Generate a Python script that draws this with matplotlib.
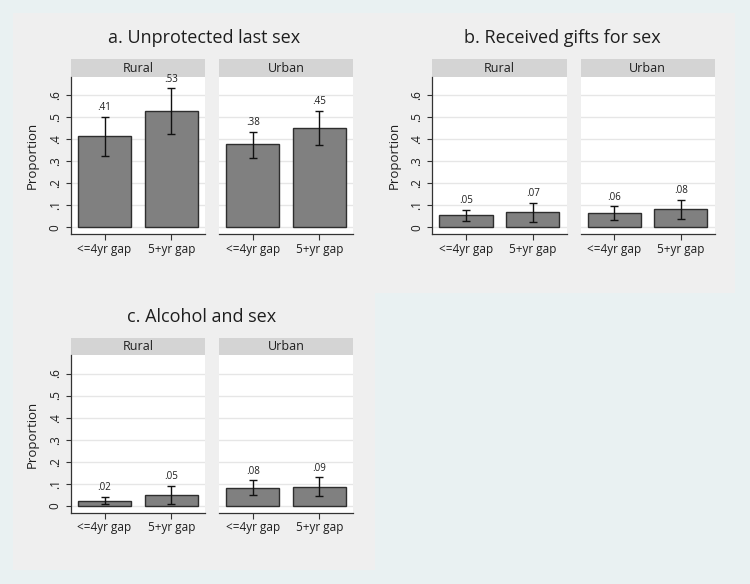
import matplotlib
matplotlib.use("Agg")
import matplotlib.pyplot as plt
from matplotlib.patches import Rectangle

plt.rcParams['font.family'] = ['Open Sans', 'DejaVu Sans']

# ---------------- data ----------------
categories = ["<=4yr gap", "5+yr gap"]
facets = ["Rural", "Urban"]
titles = ["a. Unprotected last sex", "b. Received gifts for sex", "c. Alcohol and sex"]

# panel a
a_rural = [0.414, 0.527]
a_rural_lo = [0.325, 0.422]
a_rural_hi = [0.502, 0.630]
a_urban = [0.376, 0.452]
a_urban_lo = [0.313, 0.375]
a_urban_hi = [0.434, 0.529]
a_labels_rural = [".41", ".53"]
a_labels_urban = [".38", ".45"]

# panel b
b_rural = [0.054, 0.069]
b_rural_lo = [0.029, 0.024]
b_rural_hi = [0.080, 0.112]
b_urban = [0.063, 0.082]
b_urban_lo = [0.033, 0.038]
b_urban_hi = [0.095, 0.125]
b_labels_rural = [".05", ".07"]
b_labels_urban = [".06", ".08"]

# panel c
c_rural = [0.023, 0.050]
c_rural_lo = [0.006, 0.009]
c_rural_hi = [0.041, 0.090]
c_urban = [0.080, 0.087]
c_urban_lo = [0.047, 0.043]
c_urban_hi = [0.115, 0.129]
c_labels_rural = [".02", ".05"]
c_labels_urban = [".08", ".09"]

yticks = [0, 0.1, 0.2, 0.3, 0.4, 0.5, 0.6]
ytick_labels = ["0", ".1", ".2", ".3", ".4", ".5", ".6"]

# ---------------- styling ----------------
W, H = 750, 584
OUTER_BG = "#E9F1F2"
PANEL_BG = "#EFEFEF"
STRIP_BG = "#D4D4D4"
BAR_C = "#808080"
EDGE_C = "#2E2E2E"
GRID_C = "#E6E6E6"
TXT = "#1E1E1E"

fig = plt.figure(figsize=(W / 100, H / 100), dpi=100, facecolor=OUTER_BG)


def fx(px):
    return px / W


def fy(py):
    return 1 - py / H


def rect(x0, y0, x1, y1):
    return [fx(x0), fy(y1), fx(x1 - x0), (y1 - y0) / H]


for (x0, y0, x1, y1) in [(13, 13, 375, 293), (375, 13, 735, 293), (13, 293, 375, 570)]:
    fig.add_artist(Rectangle((fx(x0), fy(y1)), fx(x1 - x0), (y1 - y0) / H,
                             transform=fig.transFigure, facecolor=PANEL_BG,
                             edgecolor="none", zorder=0))

YLIM = (-0.0317, 0.683)


def draw_facet(left, right, top_strip, strip_bot, ax_bot, facet, vals, lo, hi, labels, show_y):
    sax = fig.add_axes(rect(left, top_strip, right, strip_bot))
    sax.set_facecolor(STRIP_BG)
    sax.set_xticks([])
    sax.set_yticks([])
    for s in sax.spines.values():
        s.set_visible(False)
    sax.text(0.5, 0.5, facet, ha="center", va="center", fontsize=9, color=TXT,
             transform=sax.transAxes)

    ax = fig.add_axes(rect(left, strip_bot, right, ax_bot))
    ax.set_facecolor("white")
    x = list(range(len(categories)))
    ax.bar(x, vals, width=0.8, color=BAR_C, edgecolor=EDGE_C, linewidth=1.0, zorder=3)
    yerr = [[v - l for v, l in zip(vals, lo)], [h - v for v, h in zip(vals, hi)]]
    ax.errorbar(x, vals, yerr=yerr, fmt="none", ecolor="#111111", elinewidth=1.0,
                capsize=2.6, capthick=1.0, zorder=4)
    for xi, h, lab in zip(x, hi, labels):
        ax.annotate(lab, (xi, h), xytext=(0, 2.5), textcoords="offset points",
                    ha="center", va="bottom", fontsize=7, color=TXT, zorder=5)
    ax.set_xlim(-0.507, 1.507)
    ax.set_ylim(*YLIM)
    ax.set_yticks(yticks)
    ax.yaxis.grid(True, color=GRID_C, linewidth=1.0, zorder=0)
    ax.set_axisbelow(True)
    ax.set_xticks(x)
    ax.set_xticklabels(categories, fontsize=8.5, color=TXT)
    ax.tick_params(axis="x", length=4, width=0.8, color="#333333", pad=2)
    for s in ["top", "right"]:
        ax.spines[s].set_visible(False)
    ax.spines["bottom"].set_color("#333333")
    ax.spines["bottom"].set_linewidth(0.9)
    if show_y:
        ax.spines["left"].set_color("#333333")
        ax.spines["left"].set_linewidth(0.9)
        ax.set_yticklabels(ytick_labels, fontsize=8.5, color=TXT, rotation=90, va="center")
        ax.tick_params(axis="y", length=3.5, width=0.8, color="#333333", pad=3)
        ax.set_ylabel("Proportion", fontsize=9.5, color=TXT, labelpad=7)
    else:
        ax.spines["left"].set_visible(False)
        ax.tick_params(axis="y", length=0, labelleft=False)
    return ax


panels = [
    dict(ox=0, oy=0, title=titles[0], tx=204, ty=38,
         r=(a_rural, a_rural_lo, a_rural_hi, a_labels_rural),
         u=(a_urban, a_urban_lo, a_urban_hi, a_labels_urban)),
    dict(ox=361.5, oy=0, title=titles[1], tx=562.5, ty=38,
         r=(b_rural, b_rural_lo, b_rural_hi, b_labels_rural),
         u=(b_urban, b_urban_lo, b_urban_hi, b_labels_urban)),
    dict(ox=0, oy=278.5, title=titles[2], tx=202, ty=317,
         r=(c_rural, c_rural_lo, c_rural_hi, c_labels_rural),
         u=(c_urban, c_urban_lo, c_urban_hi, c_labels_urban)),
]

for p in panels:
    ox, oy = p["ox"], p["oy"]
    fig.text(fx(p["tx"]), fy(p["ty"]), p["title"], ha="center", va="center",
             fontsize=13, color=TXT)
    draw_facet(70.7 + ox, 205 + ox, 59.3 + oy, 76.7 + oy, 234.3 + oy, facets[0], *p["r"], True)
    draw_facet(219 + ox, 353 + ox, 59.3 + oy, 76.7 + oy, 234.3 + oy, facets[1], *p["u"], False)

fig.savefig("out.png", dpi=100, facecolor=OUTER_BG)
